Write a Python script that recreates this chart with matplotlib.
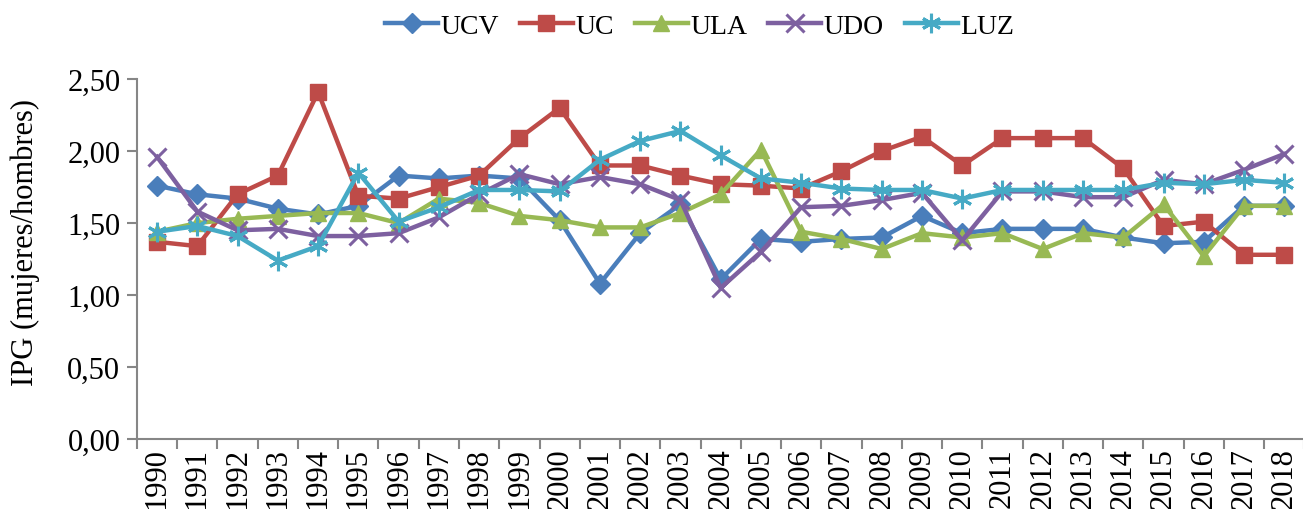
import matplotlib
matplotlib.use("Agg")
import matplotlib.pyplot as plt

plt.rcParams["font.family"] = ["Liberation Serif", "DejaVu Serif"]

YEARS = [str(y) for y in range(1990, 2019)]

UCV = [1.76, 1.70, 1.67, 1.60, 1.56, 1.62, 1.83, 1.81, 1.83, 1.81, 1.52, 1.08, 1.43, 1.63, 1.11,
       1.39, 1.37, 1.39, 1.40, 1.55, 1.43, 1.46, 1.46, 1.46, 1.40, 1.36, 1.37, 1.62, 1.62]
UC = [1.37, 1.34, 1.70, 1.83, 2.41, 1.69, 1.67, 1.75, 1.83, 2.09, 2.30, 1.90, 1.90, 1.83, 1.77,
      1.76, 1.74, 1.86, 2.00, 2.10, 1.90, 2.09, 2.09, 2.09, 1.88, 1.48, 1.51, 1.28, 1.28]
ULA = [1.44, 1.50, 1.53, 1.55, 1.57, 1.57, 1.50, 1.67, 1.64, 1.55, 1.52, 1.47, 1.47, 1.57, 1.70,
       2.01, 1.44, 1.39, 1.32, 1.43, 1.40, 1.43, 1.32, 1.43, 1.40, 1.63, 1.27, 1.62, 1.62]
UDO = [1.96, 1.58, 1.45, 1.46, 1.41, 1.41, 1.43, 1.54, 1.70, 1.84, 1.77, 1.82, 1.77, 1.66, 1.05,
       1.30, 1.61, 1.62, 1.66, 1.71, 1.38, 1.72, 1.72, 1.68, 1.68, 1.80, 1.77, 1.87, 1.98]
LUZ = [1.44, 1.48, 1.41, 1.24, 1.34, 1.85, 1.51, 1.61, 1.73, 1.73, 1.72, 1.94, 2.07, 2.14, 1.97,
       1.81, 1.78, 1.74, 1.73, 1.73, 1.67, 1.73, 1.73, 1.73, 1.73, 1.78, 1.77, 1.80, 1.78]

SERIES = [
    ("UCV", UCV, "#4A7EBB", "D", 10),
    ("UC", UC, "#BE4B48", "s", 12),
    ("ULA", ULA, "#98B954", "^", 12),
    ("UDO", UDO, "#7D60A0", "x", 13),
    ("LUZ", LUZ, "#46AAC5", (6, 2, 0), 14),
]

AXIS_GRAY = "#868686"
FS = 22

fig = plt.figure(figsize=(13.03, 5.10), dpi=100)
ax = fig.add_axes([0.1051, 0.137, 0.896, 0.706])

x = list(range(len(YEARS)))
for name, vals, color, marker, ms in SERIES:
    thin = marker in ("x",) or isinstance(marker, tuple)
    ax.plot(x, vals, color=color, linewidth=3.2, marker=marker, markersize=ms,
            markeredgewidth=2.2 if thin else 1.0, markeredgecolor=color,
            markerfacecolor=color, label=name)

ax.set_xlim(-0.5, len(YEARS) - 0.5)
ax.set_ylim(0, 2.5)
ax.set_yticks([0, 0.5, 1.0, 1.5, 2.0, 2.5])
ax.set_yticklabels([f"{v:.2f}".replace(".", ",") for v in ax.get_yticks()], fontsize=FS)

ax.set_xticks(x)
ax.set_xticklabels(YEARS, rotation=90, fontsize=FS)
ax.set_xticks([i - 0.5 for i in range(len(YEARS) + 1)], minor=True)
ax.tick_params(axis="x", which="major", length=0, pad=6)
ax.tick_params(axis="x", which="minor", length=7, width=1.5, color=AXIS_GRAY, direction="out")
ax.tick_params(axis="y", length=7, width=1.5, color=AXIS_GRAY, direction="out", pad=5)

for side in ("top", "right"):
    ax.spines[side].set_visible(False)
for side in ("left", "bottom"):
    ax.spines[side].set_color(AXIS_GRAY)
    ax.spines[side].set_linewidth(1.5)

ax.set_ylabel("IPG (mujeres/hombres)", fontsize=FS)
ax.yaxis.set_label_coords(-0.083, 0.55)

fig.legend(loc="center", bbox_to_anchor=(0.537, 0.947), ncol=5, frameon=False,
           fontsize=20, handlelength=1.9, handletextpad=0.1, columnspacing=0.75,
           borderaxespad=0)

fig.savefig("out.png", dpi=100, facecolor="white")
